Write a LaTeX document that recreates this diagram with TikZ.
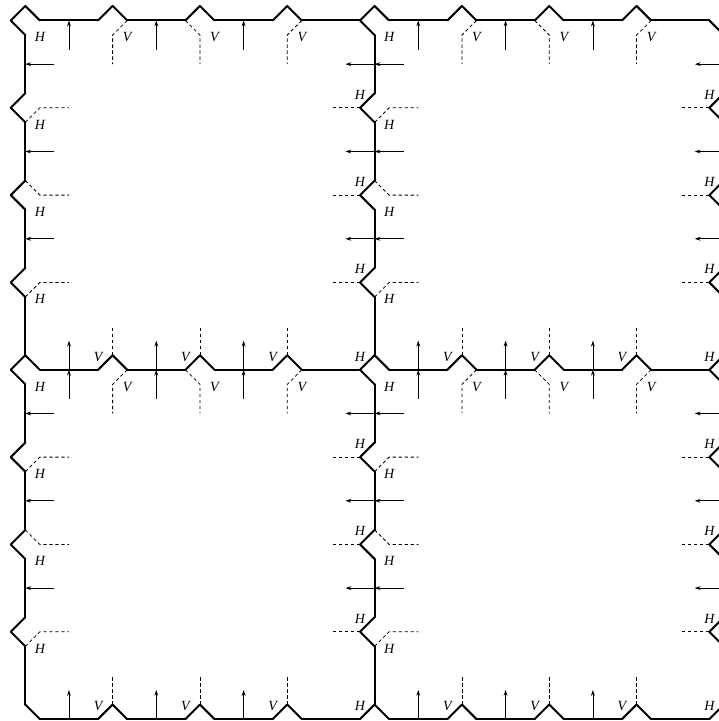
\documentclass[tikz,border=0pt]{standalone}
\usepackage{fontspec}
\setmainfont{Liberation Serif}
\usetikzlibrary{arrows.meta}
\tikzset{
	wallline/.style={line width=1pt, line cap=round, line join=round}
}
\tikzset{
	flowarrow/.style={line width=0.4pt, -{Stealth[length=2.9pt,width=1.9pt]}}
}
\tikzset{
	dashline/.style={line width=0.4pt, dash pattern=on 1.7pt off 1.3pt}
}
\tikzset{
	gridlabel/.style={font=\scriptsize\itshape, inner sep=0pt}
}
\tikzset{
	hbump/.pic={
			\draw[wallline] (-1,0) -- (0,-1) -- (1,0);
		}
}
\tikzset{
	vbump/.pic={
			\draw[wallline] (0,-1) -- (-1,0) -- (0,1);
		}
}
\tikzset{
	crossing/.pic={
			\draw[wallline] (0,1) -- (-1,0) -- (0,-1) -- (1,0);
		}
}
\tikzset{
	dropdash/.pic={
			\draw[dashline] (#1,0) -- (0,1) -- (0,3);
		}
}
\tikzset{
	sidedash/.pic={
			\draw[dashline] (0,#1) -- (1,0) -- (3,0);
		}
}

\begin{document}
\begin{tikzpicture}[x=7.2775pt, y=-7.2775pt]
\useasboundingbox (0,0) rectangle (49.4,49.54);
\clip (0,0) rectangle (49.4,49.54);

\begin{scope}[shift={(1.738,1.408)}]

% straight walls
\foreach \j in {0,4,8}
	\foreach \i in {0,...,7}
		\draw[wallline] (6*\i+1,6*\j) -- (6*\i+5,6*\j);
\foreach \i in {0,4,8}
	\foreach \j in {0,...,7}
		\draw[wallline] (6*\i,6*\j+1) -- (6*\i,6*\j+5);

% bumps and crossings
\foreach \j in {0,4,8}
	\foreach \i in {1,2,3,5,6,7}
		\pic at (6*\i,6*\j) {hbump};
\foreach \i in {0,4,8}
	\foreach \j in {1,2,3,5,6,7}
		\pic at (6*\i,6*\j) {vbump};
\pic at (0,0) {crossing};
\pic at (24,0) {crossing};
\pic at (0,24) {crossing};
\pic at (24,24) {crossing};
\pic at (48,24) {crossing};
\pic at (24,48) {hbump};
\draw[wallline] (0,47) -- (1,48);
\draw[wallline] (47,0) -- (48,1);
\draw[wallline] (47,48) -- (48,47);

% dashed stubs
\foreach \i/\s in {1/1,2/-1,3/1,5/1,6/-1,7/1} {
	\pic at (6*\i,0) {dropdash={\s}};
	\pic at (6*\i,24) {dropdash={\s}};
}
\foreach \j in {4,8}
	\foreach \i in {1,2,3,5,6,7}
		\draw[dashline] (6*\i,6*\j-1) -- (6*\i,6*\j-3);
\foreach \j/\s in {1/1,2/-1,3/1,5/1,6/-1,7/1} {
	\pic at (0,6*\j) {sidedash={\s}};
	\pic at (24,6*\j) {sidedash={\s}};
	\draw[dashline] (23,6*\j) -- (21,6*\j);
	\draw[dashline] (47,6*\j) -- (45,6*\j);
}

% flow arrows
\foreach \i in {0,1,2,4,5,6} {
	\draw[flowarrow] (6*\i+3,2) -- (6*\i+3,0);
	\draw[flowarrow] (6*\i+3,26) -- (6*\i+3,24);
	\draw[flowarrow] (6*\i+3,24) -- (6*\i+3,22);
	\draw[flowarrow] (6*\i+3,48) -- (6*\i+3,46);
}
\foreach \j in {0,1,2,4,5,6} {
	\draw[flowarrow] (2,6*\j+3) -- (0,6*\j+3);
	\draw[flowarrow] (26,6*\j+3) -- (24,6*\j+3);
	\draw[flowarrow] (24,6*\j+3) -- (22,6*\j+3);
	\draw[flowarrow] (48,6*\j+3) -- (46,6*\j+3);
}

% labels
\foreach \j in {0,...,7} {
	\node[gridlabel] (hlowA\j) at (1,6*\j+1.15) {H};
	\node[gridlabel] (hlowB\j) at (25,6*\j+1.15) {H};
}
\foreach \j in {1,...,8} {
	\node[gridlabel] (hupB\j) at (23,6*\j-0.9) {H};
	\node[gridlabel] (hupC\j) at (47,6*\j-0.9) {H};
}
\foreach \i in {1,2,3,5,6,7} {
	\node[gridlabel] (vlowA\i) at (6*\i+1,1.15) {V};
	\node[gridlabel] (vlowB\i) at (6*\i+1,25.15) {V};
	\node[gridlabel] (vupB\i) at (6*\i-1,23.1) {V};
	\node[gridlabel] (vupC\i) at (6*\i-1,47.1) {V};
}

\end{scope}
\end{tikzpicture}
\end{document}
